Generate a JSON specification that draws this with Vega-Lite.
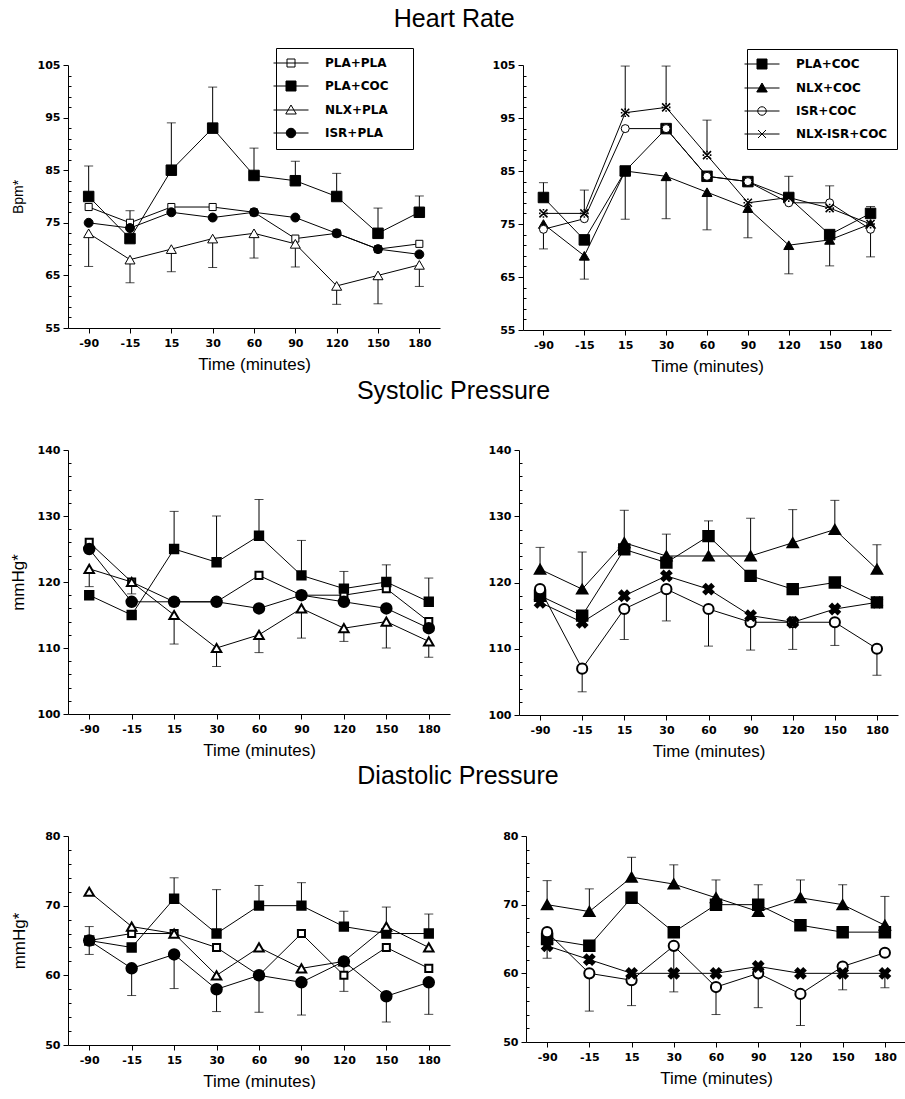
{
"$schema": "https://vega.github.io/schema/vega-lite/v6.json",
"background": "white",
"padding": {"left": 9, "top": 6, "right": 0, "bottom": 0},
"config": {"view": {"stroke": null}, "font": "Liberation Sans",
  "axis": {"grid": false, "domainColor": "black", "tickColor": "black", "labelColor": "black", "titleColor": "black", "domainWidth": 1, "tickWidth": 1, "labelFont": "DejaVu Sans", "labelFontWeight": "bold", "labelFontSize": 11, "titleFont": "Liberation Sans", "titleFontWeight": "normal", "labelOverlap": false},
  "title": {"color": "black", "font": "Liberation Sans", "fontWeight": "normal", "fontSize": 25, "anchor": "middle"}},
"datasets": {"d": [
{"m":"HR","p":"L","s":"PLA+PLA","t":"-90","v":78,"e":null},{"m":"HR","p":"L","s":"PLA+PLA","t":"-15","v":75,"e":77.3},{"m":"HR","p":"L","s":"PLA+PLA","t":"15","v":78,"e":null},{"m":"HR","p":"L","s":"PLA+PLA","t":"30","v":78,"e":null},{"m":"HR","p":"L","s":"PLA+PLA","t":"60","v":77,"e":null},{"m":"HR","p":"L","s":"PLA+PLA","t":"90","v":72,"e":null},{"m":"HR","p":"L","s":"PLA+PLA","t":"120","v":73,"e":null},{"m":"HR","p":"L","s":"PLA+PLA","t":"150","v":70,"e":null},{"m":"HR","p":"L","s":"PLA+PLA","t":"180","v":71,"e":null},
{"m":"HR","p":"L","s":"PLA+COC","t":"-90","v":80,"e":85.8},{"m":"HR","p":"L","s":"PLA+COC","t":"-15","v":72,"e":null},{"m":"HR","p":"L","s":"PLA+COC","t":"15","v":85,"e":94},{"m":"HR","p":"L","s":"PLA+COC","t":"30","v":93,"e":100.8},{"m":"HR","p":"L","s":"PLA+COC","t":"60","v":84,"e":89.2},{"m":"HR","p":"L","s":"PLA+COC","t":"90","v":83,"e":86.7},{"m":"HR","p":"L","s":"PLA+COC","t":"120","v":80,"e":84.4},{"m":"HR","p":"L","s":"PLA+COC","t":"150","v":73,"e":77.8},{"m":"HR","p":"L","s":"PLA+COC","t":"180","v":77,"e":80.1},
{"m":"HR","p":"L","s":"NLX+PLA","t":"-90","v":73,"e":66.7},{"m":"HR","p":"L","s":"NLX+PLA","t":"-15","v":68,"e":63.6},{"m":"HR","p":"L","s":"NLX+PLA","t":"15","v":70,"e":65.7},{"m":"HR","p":"L","s":"NLX+PLA","t":"30","v":72,"e":66.5},{"m":"HR","p":"L","s":"NLX+PLA","t":"60","v":73,"e":68.3},{"m":"HR","p":"L","s":"NLX+PLA","t":"90","v":71,"e":66.6},{"m":"HR","p":"L","s":"NLX+PLA","t":"120","v":63,"e":59.5},{"m":"HR","p":"L","s":"NLX+PLA","t":"150","v":65,"e":59.6},{"m":"HR","p":"L","s":"NLX+PLA","t":"180","v":67,"e":62.9},
{"m":"HR","p":"L","s":"ISR+PLA","t":"-90","v":75,"e":null},{"m":"HR","p":"L","s":"ISR+PLA","t":"-15","v":74,"e":null},{"m":"HR","p":"L","s":"ISR+PLA","t":"15","v":77,"e":null},{"m":"HR","p":"L","s":"ISR+PLA","t":"30","v":76,"e":null},{"m":"HR","p":"L","s":"ISR+PLA","t":"60","v":77,"e":null},{"m":"HR","p":"L","s":"ISR+PLA","t":"90","v":76,"e":null},{"m":"HR","p":"L","s":"ISR+PLA","t":"120","v":73,"e":null},{"m":"HR","p":"L","s":"ISR+PLA","t":"150","v":70,"e":null},{"m":"HR","p":"L","s":"ISR+PLA","t":"180","v":69,"e":null},
{"m":"HR","p":"R","s":"PLA+COC","t":"-90","v":80,"e":82.8},{"m":"HR","p":"R","s":"PLA+COC","t":"-15","v":72,"e":null},{"m":"HR","p":"R","s":"PLA+COC","t":"15","v":85,"e":null},{"m":"HR","p":"R","s":"PLA+COC","t":"30","v":93,"e":null},{"m":"HR","p":"R","s":"PLA+COC","t":"60","v":84,"e":null},{"m":"HR","p":"R","s":"PLA+COC","t":"90","v":83,"e":null},{"m":"HR","p":"R","s":"PLA+COC","t":"120","v":80,"e":84},{"m":"HR","p":"R","s":"PLA+COC","t":"150","v":73,"e":null},{"m":"HR","p":"R","s":"PLA+COC","t":"180","v":77,"e":78.3},
{"m":"HR","p":"R","s":"NLX+COC","t":"-90","v":75,"e":null},{"m":"HR","p":"R","s":"NLX+COC","t":"-15","v":69,"e":64.6},{"m":"HR","p":"R","s":"NLX+COC","t":"15","v":85,"e":75.9},{"m":"HR","p":"R","s":"NLX+COC","t":"30","v":84,"e":76},{"m":"HR","p":"R","s":"NLX+COC","t":"60","v":81,"e":73.9},{"m":"HR","p":"R","s":"NLX+COC","t":"90","v":78,"e":72.4},{"m":"HR","p":"R","s":"NLX+COC","t":"120","v":71,"e":65.6},{"m":"HR","p":"R","s":"NLX+COC","t":"150","v":72,"e":67.1},{"m":"HR","p":"R","s":"NLX+COC","t":"180","v":75,"e":null},
{"m":"HR","p":"R","s":"ISR+COC","t":"-90","v":74,"e":70.3},{"m":"HR","p":"R","s":"ISR+COC","t":"-15","v":76,"e":null},{"m":"HR","p":"R","s":"ISR+COC","t":"15","v":93,"e":null},{"m":"HR","p":"R","s":"ISR+COC","t":"30","v":93,"e":null},{"m":"HR","p":"R","s":"ISR+COC","t":"60","v":84,"e":null},{"m":"HR","p":"R","s":"ISR+COC","t":"90","v":83,"e":null},{"m":"HR","p":"R","s":"ISR+COC","t":"120","v":79,"e":null},{"m":"HR","p":"R","s":"ISR+COC","t":"150","v":79,"e":null},{"m":"HR","p":"R","s":"ISR+COC","t":"180","v":74,"e":68.8},
{"m":"HR","p":"R","s":"NLX-ISR+COC","t":"-90","v":77,"e":null},{"m":"HR","p":"R","s":"NLX-ISR+COC","t":"-15","v":77,"e":81.4},{"m":"HR","p":"R","s":"NLX-ISR+COC","t":"15","v":96,"e":104.8},{"m":"HR","p":"R","s":"NLX-ISR+COC","t":"30","v":97,"e":104.8},{"m":"HR","p":"R","s":"NLX-ISR+COC","t":"60","v":88,"e":94.6},{"m":"HR","p":"R","s":"NLX-ISR+COC","t":"90","v":79,"e":null},{"m":"HR","p":"R","s":"NLX-ISR+COC","t":"120","v":80,"e":null},{"m":"HR","p":"R","s":"NLX-ISR+COC","t":"150","v":78,"e":82.2},{"m":"HR","p":"R","s":"NLX-ISR+COC","t":"180","v":75,"e":null},
{"m":"SBP","p":"L","s":"PLA+PLA","t":"-90","v":126,"e":null},{"m":"SBP","p":"L","s":"PLA+PLA","t":"-15","v":120,"e":null},{"m":"SBP","p":"L","s":"PLA+PLA","t":"15","v":117,"e":null},{"m":"SBP","p":"L","s":"PLA+PLA","t":"30","v":117,"e":null},{"m":"SBP","p":"L","s":"PLA+PLA","t":"60","v":121,"e":null},{"m":"SBP","p":"L","s":"PLA+PLA","t":"90","v":118,"e":null},{"m":"SBP","p":"L","s":"PLA+PLA","t":"120","v":118,"e":null},{"m":"SBP","p":"L","s":"PLA+PLA","t":"150","v":119,"e":null},{"m":"SBP","p":"L","s":"PLA+PLA","t":"180","v":114,"e":null},
{"m":"SBP","p":"L","s":"PLA+COC","t":"-90","v":118,"e":null},{"m":"SBP","p":"L","s":"PLA+COC","t":"-15","v":115,"e":null},{"m":"SBP","p":"L","s":"PLA+COC","t":"15","v":125,"e":130.7},{"m":"SBP","p":"L","s":"PLA+COC","t":"30","v":123,"e":130},{"m":"SBP","p":"L","s":"PLA+COC","t":"60","v":127,"e":132.5},{"m":"SBP","p":"L","s":"PLA+COC","t":"90","v":121,"e":126.3},{"m":"SBP","p":"L","s":"PLA+COC","t":"120","v":119,"e":121.6},{"m":"SBP","p":"L","s":"PLA+COC","t":"150","v":120,"e":122.6},{"m":"SBP","p":"L","s":"PLA+COC","t":"180","v":117,"e":120.6},
{"m":"SBP","p":"L","s":"NLX+PLA","t":"-90","v":122,"e":119.3},{"m":"SBP","p":"L","s":"NLX+PLA","t":"-15","v":120,"e":118.2},{"m":"SBP","p":"L","s":"NLX+PLA","t":"15","v":115,"e":110.6},{"m":"SBP","p":"L","s":"NLX+PLA","t":"30","v":110,"e":107.2},{"m":"SBP","p":"L","s":"NLX+PLA","t":"60","v":112,"e":109.3},{"m":"SBP","p":"L","s":"NLX+PLA","t":"90","v":116,"e":111.5},{"m":"SBP","p":"L","s":"NLX+PLA","t":"120","v":113,"e":111},{"m":"SBP","p":"L","s":"NLX+PLA","t":"150","v":114,"e":110},{"m":"SBP","p":"L","s":"NLX+PLA","t":"180","v":111,"e":108.6},
{"m":"SBP","p":"L","s":"ISR+PLA","t":"-90","v":125,"e":null},{"m":"SBP","p":"L","s":"ISR+PLA","t":"-15","v":117,"e":null},{"m":"SBP","p":"L","s":"ISR+PLA","t":"15","v":117,"e":null},{"m":"SBP","p":"L","s":"ISR+PLA","t":"30","v":117,"e":null},{"m":"SBP","p":"L","s":"ISR+PLA","t":"60","v":116,"e":null},{"m":"SBP","p":"L","s":"ISR+PLA","t":"90","v":118,"e":null},{"m":"SBP","p":"L","s":"ISR+PLA","t":"120","v":117,"e":null},{"m":"SBP","p":"L","s":"ISR+PLA","t":"150","v":116,"e":null},{"m":"SBP","p":"L","s":"ISR+PLA","t":"180","v":113,"e":null},
{"m":"SBP","p":"R","s":"PLA+COC","t":"-90","v":118,"e":null},{"m":"SBP","p":"R","s":"PLA+COC","t":"-15","v":115,"e":null},{"m":"SBP","p":"R","s":"PLA+COC","t":"15","v":125,"e":null},{"m":"SBP","p":"R","s":"PLA+COC","t":"30","v":123,"e":null},{"m":"SBP","p":"R","s":"PLA+COC","t":"60","v":127,"e":null},{"m":"SBP","p":"R","s":"PLA+COC","t":"90","v":121,"e":null},{"m":"SBP","p":"R","s":"PLA+COC","t":"120","v":119,"e":null},{"m":"SBP","p":"R","s":"PLA+COC","t":"150","v":120,"e":null},{"m":"SBP","p":"R","s":"PLA+COC","t":"180","v":117,"e":null},
{"m":"SBP","p":"R","s":"NLX+COC","t":"-90","v":122,"e":125.3},{"m":"SBP","p":"R","s":"NLX+COC","t":"-15","v":119,"e":124.6},{"m":"SBP","p":"R","s":"NLX+COC","t":"15","v":126,"e":130.9},{"m":"SBP","p":"R","s":"NLX+COC","t":"30","v":124,"e":127.3},{"m":"SBP","p":"R","s":"NLX+COC","t":"60","v":124,"e":129.3},{"m":"SBP","p":"R","s":"NLX+COC","t":"90","v":124,"e":129.7},{"m":"SBP","p":"R","s":"NLX+COC","t":"120","v":126,"e":131},{"m":"SBP","p":"R","s":"NLX+COC","t":"150","v":128,"e":132.4},{"m":"SBP","p":"R","s":"NLX+COC","t":"180","v":122,"e":125.7},
{"m":"SBP","p":"R","s":"ISR+COC","t":"-90","v":119,"e":null},{"m":"SBP","p":"R","s":"ISR+COC","t":"-15","v":107,"e":103.5},{"m":"SBP","p":"R","s":"ISR+COC","t":"15","v":116,"e":111.4},{"m":"SBP","p":"R","s":"ISR+COC","t":"30","v":119,"e":114.2},{"m":"SBP","p":"R","s":"ISR+COC","t":"60","v":116,"e":110.4},{"m":"SBP","p":"R","s":"ISR+COC","t":"90","v":114,"e":109.8},{"m":"SBP","p":"R","s":"ISR+COC","t":"120","v":114,"e":109.9},{"m":"SBP","p":"R","s":"ISR+COC","t":"150","v":114,"e":110.5},{"m":"SBP","p":"R","s":"ISR+COC","t":"180","v":110,"e":106},
{"m":"SBP","p":"R","s":"NLX-ISR+COC","t":"-90","v":117,"e":null},{"m":"SBP","p":"R","s":"NLX-ISR+COC","t":"-15","v":114,"e":null},{"m":"SBP","p":"R","s":"NLX-ISR+COC","t":"15","v":118,"e":null},{"m":"SBP","p":"R","s":"NLX-ISR+COC","t":"30","v":121,"e":null},{"m":"SBP","p":"R","s":"NLX-ISR+COC","t":"60","v":119,"e":null},{"m":"SBP","p":"R","s":"NLX-ISR+COC","t":"90","v":115,"e":null},{"m":"SBP","p":"R","s":"NLX-ISR+COC","t":"120","v":114,"e":null},{"m":"SBP","p":"R","s":"NLX-ISR+COC","t":"150","v":116,"e":null},{"m":"SBP","p":"R","s":"NLX-ISR+COC","t":"180","v":117,"e":null},
{"m":"DBP","p":"L","s":"PLA+PLA","t":"-90","v":65,"e":null},{"m":"DBP","p":"L","s":"PLA+PLA","t":"-15","v":66,"e":null},{"m":"DBP","p":"L","s":"PLA+PLA","t":"15","v":66,"e":null},{"m":"DBP","p":"L","s":"PLA+PLA","t":"30","v":64,"e":null},{"m":"DBP","p":"L","s":"PLA+PLA","t":"60","v":60,"e":null},{"m":"DBP","p":"L","s":"PLA+PLA","t":"90","v":66,"e":null},{"m":"DBP","p":"L","s":"PLA+PLA","t":"120","v":60,"e":null},{"m":"DBP","p":"L","s":"PLA+PLA","t":"150","v":64,"e":null},{"m":"DBP","p":"L","s":"PLA+PLA","t":"180","v":61,"e":null},
{"m":"DBP","p":"L","s":"PLA+COC","t":"-90","v":65,"e":67},{"m":"DBP","p":"L","s":"PLA+COC","t":"-15","v":64,"e":null},{"m":"DBP","p":"L","s":"PLA+COC","t":"15","v":71,"e":74},{"m":"DBP","p":"L","s":"PLA+COC","t":"30","v":66,"e":72.3},{"m":"DBP","p":"L","s":"PLA+COC","t":"60","v":70,"e":72.9},{"m":"DBP","p":"L","s":"PLA+COC","t":"90","v":70,"e":73.3},{"m":"DBP","p":"L","s":"PLA+COC","t":"120","v":67,"e":69.2},{"m":"DBP","p":"L","s":"PLA+COC","t":"150","v":66,"e":69.8},{"m":"DBP","p":"L","s":"PLA+COC","t":"180","v":66,"e":68.8},
{"m":"DBP","p":"L","s":"NLX+PLA","t":"-90","v":72,"e":null},{"m":"DBP","p":"L","s":"NLX+PLA","t":"-15","v":67,"e":null},{"m":"DBP","p":"L","s":"NLX+PLA","t":"15","v":66,"e":null},{"m":"DBP","p":"L","s":"NLX+PLA","t":"30","v":60,"e":null},{"m":"DBP","p":"L","s":"NLX+PLA","t":"60","v":64,"e":null},{"m":"DBP","p":"L","s":"NLX+PLA","t":"90","v":61,"e":null},{"m":"DBP","p":"L","s":"NLX+PLA","t":"120","v":62,"e":null},{"m":"DBP","p":"L","s":"NLX+PLA","t":"150","v":67,"e":null},{"m":"DBP","p":"L","s":"NLX+PLA","t":"180","v":64,"e":null},
{"m":"DBP","p":"L","s":"ISR+PLA","t":"-90","v":65,"e":63},{"m":"DBP","p":"L","s":"ISR+PLA","t":"-15","v":61,"e":57.1},{"m":"DBP","p":"L","s":"ISR+PLA","t":"15","v":63,"e":58.1},{"m":"DBP","p":"L","s":"ISR+PLA","t":"30","v":58,"e":54.8},{"m":"DBP","p":"L","s":"ISR+PLA","t":"60","v":60,"e":54.7},{"m":"DBP","p":"L","s":"ISR+PLA","t":"90","v":59,"e":54.3},{"m":"DBP","p":"L","s":"ISR+PLA","t":"120","v":62,"e":57.7},{"m":"DBP","p":"L","s":"ISR+PLA","t":"150","v":57,"e":53.3},{"m":"DBP","p":"L","s":"ISR+PLA","t":"180","v":59,"e":54.4},
{"m":"DBP","p":"R","s":"PLA+COC","t":"-90","v":65,"e":null},{"m":"DBP","p":"R","s":"PLA+COC","t":"-15","v":64,"e":null},{"m":"DBP","p":"R","s":"PLA+COC","t":"15","v":71,"e":null},{"m":"DBP","p":"R","s":"PLA+COC","t":"30","v":66,"e":null},{"m":"DBP","p":"R","s":"PLA+COC","t":"60","v":70,"e":null},{"m":"DBP","p":"R","s":"PLA+COC","t":"90","v":70,"e":null},{"m":"DBP","p":"R","s":"PLA+COC","t":"120","v":67,"e":null},{"m":"DBP","p":"R","s":"PLA+COC","t":"150","v":66,"e":null},{"m":"DBP","p":"R","s":"PLA+COC","t":"180","v":66,"e":null},
{"m":"DBP","p":"R","s":"NLX+COC","t":"-90","v":70,"e":73.5},{"m":"DBP","p":"R","s":"NLX+COC","t":"-15","v":69,"e":72.3},{"m":"DBP","p":"R","s":"NLX+COC","t":"15","v":74,"e":76.9},{"m":"DBP","p":"R","s":"NLX+COC","t":"30","v":73,"e":75.8},{"m":"DBP","p":"R","s":"NLX+COC","t":"60","v":71,"e":73.6},{"m":"DBP","p":"R","s":"NLX+COC","t":"90","v":69,"e":72.9},{"m":"DBP","p":"R","s":"NLX+COC","t":"120","v":71,"e":73.6},{"m":"DBP","p":"R","s":"NLX+COC","t":"150","v":70,"e":72.9},{"m":"DBP","p":"R","s":"NLX+COC","t":"180","v":67,"e":71.2},
{"m":"DBP","p":"R","s":"ISR+COC","t":"-90","v":66,"e":null},{"m":"DBP","p":"R","s":"ISR+COC","t":"-15","v":60,"e":54.5},{"m":"DBP","p":"R","s":"ISR+COC","t":"15","v":59,"e":55.3},{"m":"DBP","p":"R","s":"ISR+COC","t":"30","v":64,"e":57.3},{"m":"DBP","p":"R","s":"ISR+COC","t":"60","v":58,"e":54},{"m":"DBP","p":"R","s":"ISR+COC","t":"90","v":60,"e":55},{"m":"DBP","p":"R","s":"ISR+COC","t":"120","v":57,"e":52.4},{"m":"DBP","p":"R","s":"ISR+COC","t":"150","v":61,"e":null},{"m":"DBP","p":"R","s":"ISR+COC","t":"180","v":63,"e":null},
{"m":"DBP","p":"R","s":"NLX-ISR+COC","t":"-90","v":64,"e":62.2},{"m":"DBP","p":"R","s":"NLX-ISR+COC","t":"-15","v":62,"e":null},{"m":"DBP","p":"R","s":"NLX-ISR+COC","t":"15","v":60,"e":null},{"m":"DBP","p":"R","s":"NLX-ISR+COC","t":"30","v":60,"e":null},{"m":"DBP","p":"R","s":"NLX-ISR+COC","t":"60","v":60,"e":null},{"m":"DBP","p":"R","s":"NLX-ISR+COC","t":"90","v":61,"e":null},{"m":"DBP","p":"R","s":"NLX-ISR+COC","t":"120","v":60,"e":null},{"m":"DBP","p":"R","s":"NLX-ISR+COC","t":"150","v":60,"e":57.6},{"m":"DBP","p":"R","s":"NLX-ISR+COC","t":"180","v":60,"e":57.9}
]},
"spacing": 5,
"resolve": {"scale": {"shape": "independent", "fill": "independent", "size": "independent", "x": "independent", "y": "independent"}, "legend": {"shape": "independent", "fill": "independent"}},
"vconcat": [
{"title": {"text": "Heart Rate", "offset": 16}, "spacing": 52,
 "resolve": {"scale": {"shape": "independent", "fill": "independent", "size": "independent", "x": "independent", "y": "independent"}, "legend": {"shape": "independent", "fill": "independent"}},
 "hconcat": [
 {"width": 372, "height": 263, "data": {"name": "d"}, "transform": [{"filter": "datum.m == 'HR' && datum.p == 'L'"}],
  "resolve": {"axis": {"y": "independent"}},
  "encoding": {"x": {"field": "t", "type": "ordinal", "sort": ["-90","-15","15","30","60","90","120","150","180"], "scale": {"type": "point", "padding": 0.5}, "axis": {"title": "Time (minutes)", "titleFontSize": 17, "labelAngle": 0, "tickSize": 5, "labelPadding": 4, "titlePadding": 8}}},
  "layer": [
   {"transform": [{"filter": "isValid(datum.e)"}], "mark": {"type": "rule", "color": "black", "strokeWidth": 1},
    "encoding": {"y": {"field": "v", "type": "quantitative", "title": "Bpm*", "scale": {"domain": [55, 105], "nice": false, "zero": false},
      "axis": {"orient": "left", "values": [55,65,75,85,95,105], "tickSize": 5, "minExtent": 30, "maxExtent": 30, "labelPadding": 3, "titleFontSize": 14, "titlePadding": 13}},
     "y2": {"field": "e"}}},
   {"transform": [{"filter": "isValid(datum.e)"}], "mark": {"type": "tick", "color": "black", "thickness": 1, "size": 9},
    "encoding": {"y": {"field": "e", "type": "quantitative", "axis": null}}},
   {"mark": {"type": "line", "color": "black", "strokeWidth": 1}, "encoding": {"y": {"field": "v", "type": "quantitative", "axis": {"orient": "left", "title": null, "labels": false, "domain": false, "tickSize": -3, "values": [57,59,61,63,67,69,71,73,77,79,81,83,87,89,91,93,97,99,101,103], "minExtent": 0, "maxExtent": 0}}, "detail": {"field": "s"}}},
   {"transform": [{"filter": "datum.s == 'PLA+PLA'"}], "mark": {"type": "point", "shape": "square", "filled": true, "fill": "white", "stroke": "black", "strokeWidth": 1, "size": 50, "opacity": 1}, "encoding": {"y": {"field": "v", "type": "quantitative", "axis": null}}},
   {"transform": [{"filter": "datum.s == 'PLA+COC'"}], "mark": {"type": "point", "shape": "square", "filled": true, "fill": "black", "stroke": "black", "strokeWidth": 1, "size": 110, "opacity": 1}, "encoding": {"y": {"field": "v", "type": "quantitative", "axis": null}}},
   {"transform": [{"filter": "datum.s == 'NLX+PLA'"}], "mark": {"type": "point", "shape": "triangle-up", "filled": true, "fill": "white", "stroke": "black", "strokeWidth": 1, "size": 100, "opacity": 1}, "encoding": {"y": {"field": "v", "type": "quantitative", "axis": null}}},
   {"transform": [{"filter": "datum.s == 'ISR+PLA'"}], "mark": {"type": "point", "shape": "circle", "filled": true, "fill": "black", "stroke": "black", "strokeWidth": 1, "size": 80, "opacity": 1}, "encoding": {"y": {"field": "v", "type": "quantitative", "axis": null}}},
   {"transform": [{"filter": "false"}], "mark": {"type": "point", "filled": true, "stroke": "black", "strokeWidth": 1, "opacity": 1, "size": 100},
    "encoding": {"y": {"field": "v", "type": "quantitative", "axis": null},
     "shape": {"field": "s", "type": "nominal", "scale": {"domain": ["PLA+PLA","PLA+COC","NLX+PLA","ISR+PLA"], "range": ["M-5.4,0M22.2,0M-3.5,0H3.5M-0.8,-0.8H0.8V0.8H-0.8Z", "M-5.4,0M22.2,0M-3.5,0H3.5M-1,-1H1V1H-1Z", "M-5.4,0M22.2,0M-3.5,0H3.5M0,-1L1.05,0.8H-1.05Z", "M-5.4,0M22.2,0M-3.5,0H3.5M-0.95,0A0.95,0.95,0,1,1,0.95,0A0.95,0.95,0,1,1,-0.95,0Z"]},
       "legend": {"orient": "none", "legendX": 208, "legendY": -17, "title": null, "strokeColor": "black", "fillColor": "white", "padding": 9, "symbolSize": 100, "symbolStrokeWidth": 1, "symbolOpacity": 1, "labelOffset": 28, "rowPadding": 10, "labelFont": "DejaVu Sans", "labelFontWeight": "bold", "labelFontSize": 12, "labelColor": "black"}},
     "fill": {"field": "s", "type": "nominal", "scale": {"domain": ["PLA+PLA","PLA+COC","NLX+PLA","ISR+PLA"], "range": ["white","black","white","black"]}}}}
  ]},
 {"width": 368, "height": 265, "data": {"name": "d"}, "transform": [{"filter": "datum.m == 'HR' && datum.p == 'R'"}],
  "resolve": {"axis": {"y": "independent"}},
  "encoding": {"x": {"field": "t", "type": "ordinal", "sort": ["-90","-15","15","30","60","90","120","150","180"], "scale": {"type": "point", "padding": 0.5}, "axis": {"title": "Time (minutes)", "titleFontSize": 17, "labelAngle": 0, "tickSize": 5, "labelPadding": 4, "titlePadding": 8}}},
  "layer": [
   {"transform": [{"filter": "isValid(datum.e)"}], "mark": {"type": "rule", "color": "black", "strokeWidth": 1},
    "encoding": {"y": {"field": "v", "type": "quantitative", "title": null, "scale": {"domain": [55, 105], "nice": false, "zero": false},
      "axis": {"orient": "left", "values": [55,65,75,85,95,105], "tickSize": 5, "minExtent": 30, "maxExtent": 30, "labelPadding": 3}},
     "y2": {"field": "e"}}},
   {"transform": [{"filter": "isValid(datum.e)"}], "mark": {"type": "tick", "color": "black", "thickness": 1, "size": 9},
    "encoding": {"y": {"field": "e", "type": "quantitative", "axis": null}}},
   {"mark": {"type": "line", "color": "black", "strokeWidth": 1}, "encoding": {"y": {"field": "v", "type": "quantitative", "axis": {"orient": "left", "title": null, "labels": false, "domain": false, "tickSize": -3, "values": [57,59,61,63,67,69,71,73,77,79,81,83,87,89,91,93,97,99,101,103], "minExtent": 0, "maxExtent": 0}}, "detail": {"field": "s"}}},
   {"transform": [{"filter": "datum.s == 'PLA+COC'"}], "mark": {"type": "point", "shape": "square", "filled": true, "fill": "black", "stroke": "black", "strokeWidth": 1, "size": 110, "opacity": 1}, "encoding": {"y": {"field": "v", "type": "quantitative", "axis": null}}},
   {"transform": [{"filter": "datum.s == 'NLX+COC'"}], "mark": {"type": "point", "shape": "triangle-up", "filled": true, "fill": "black", "stroke": "black", "strokeWidth": 1, "size": 100, "opacity": 1}, "encoding": {"y": {"field": "v", "type": "quantitative", "axis": null}}},
   {"transform": [{"filter": "datum.s == 'ISR+COC'"}], "mark": {"type": "point", "shape": "circle", "filled": true, "fill": "white", "stroke": "black", "strokeWidth": 1, "size": 64, "opacity": 1}, "encoding": {"y": {"field": "v", "type": "quantitative", "axis": null}}},
   {"transform": [{"filter": "datum.s == 'NLX-ISR+COC'"}], "mark": {"type": "point", "shape": "M-1,-1L1,1M-1,1L1,-1M0,-1.1V-0.7M0,1.1V0.7M-1.1,0H-0.7M1.1,0H0.7", "filled": false, "stroke": "black", "strokeWidth": 1.6, "size": 64, "opacity": 1}, "encoding": {"y": {"field": "v", "type": "quantitative", "axis": null}}},
   {"transform": [{"filter": "false"}], "mark": {"type": "point", "filled": true, "stroke": "black", "strokeWidth": 1, "opacity": 1, "size": 100},
    "encoding": {"y": {"field": "v", "type": "quantitative", "axis": null},
     "shape": {"field": "s", "type": "nominal", "scale": {"domain": ["PLA+COC","NLX+COC","ISR+COC","NLX-ISR+COC"], "range": ["M-4.2,0M-3.5,0H3.5M-1,-1H1V1H-1Z", "M-4.2,0M-3.5,0H3.5M0,-1L1.05,0.8H-1.05Z", "M-4.2,0M-3.5,0H3.5M-0.85,0A0.85,0.85,0,1,1,0.85,0A0.85,0.85,0,1,1,-0.85,0Z", "M-4.2,0M-3.5,0H3.5M-0.8,-0.8L0.8,0.8M-0.8,0.8L0.8,-0.8"]},
       "legend": {"orient": "none", "legendX": 224, "legendY": -16, "title": null, "strokeColor": "black", "fillColor": "white", "padding": 9, "symbolSize": 100, "symbolStrokeWidth": 1, "symbolOpacity": 1, "labelOffset": 28, "rowPadding": 10, "labelFont": "DejaVu Sans", "labelFontWeight": "bold", "labelFontSize": 12, "labelColor": "black"}},
     "fill": {"field": "s", "type": "nominal", "scale": {"domain": ["PLA+COC","NLX+COC","ISR+COC","NLX-ISR+COC"], "range": ["black","black","white","black"]}}}}
  ]}
]},
{"title": {"text": "Systolic Pressure", "offset": 40}, "spacing": 38,
 "resolve": {"scale": {"shape": "independent", "fill": "independent", "size": "independent", "x": "independent", "y": "independent"}},
 "hconcat": [
 {"width": 382, "height": 264, "data": {"name": "d"}, "transform": [{"filter": "datum.m == 'SBP' && datum.p == 'L'"}],
  "resolve": {"axis": {"y": "independent"}},
  "encoding": {"x": {"field": "t", "type": "ordinal", "sort": ["-90","-15","15","30","60","90","120","150","180"], "scale": {"type": "point", "padding": 0.5}, "axis": {"title": "Time (minutes)", "titleFontSize": 17, "labelAngle": 0, "tickSize": 5, "labelPadding": 4, "titlePadding": 8}}},
  "layer": [
   {"transform": [{"filter": "isValid(datum.e)"}], "mark": {"type": "rule", "color": "black", "strokeWidth": 1},
    "encoding": {"y": {"field": "v", "type": "quantitative", "title": "mmHg*", "scale": {"domain": [100, 140], "nice": false, "zero": false},
      "axis": {"orient": "left", "values": [100,110,120,130,140], "tickSize": 5, "minExtent": 30, "maxExtent": 30, "labelPadding": 3, "titleFontSize": 17, "titlePadding": 11}},
     "y2": {"field": "e"}}},
   {"transform": [{"filter": "isValid(datum.e)"}], "mark": {"type": "tick", "color": "black", "thickness": 1, "size": 9},
    "encoding": {"y": {"field": "e", "type": "quantitative", "axis": null}}},
   {"mark": {"type": "line", "color": "black", "strokeWidth": 1}, "encoding": {"y": {"field": "v", "type": "quantitative", "axis": {"orient": "left", "title": null, "labels": false, "domain": false, "tickSize": -3, "values": [102,104,106,108,112,114,116,118,122,124,126,128,132,134,136,138], "minExtent": 0, "maxExtent": 0}}, "detail": {"field": "s"}}},
   {"mark": {"type": "point", "filled": true, "opacity": 1, "stroke": "black"},
    "encoding": {"y": {"field": "v", "type": "quantitative", "axis": null},
     "shape": {"field": "s", "type": "nominal", "scale": {"domain": ["PLA+PLA","PLA+COC","NLX+PLA","ISR+PLA"], "range": ["square","square","triangle-up","circle"]}, "legend": null},
     "fill": {"field": "s", "type": "nominal", "scale": {"domain": ["PLA+PLA","PLA+COC","NLX+PLA","ISR+PLA"], "range": ["white","black","white","black"]}, "legend": null},
     "size": {"field": "s", "type": "nominal", "scale": {"domain": ["PLA+PLA","PLA+COC","NLX+PLA","ISR+PLA"], "range": [50, 110, 100, 80]}, "legend": null}}}
  ]},
 {"width": 379, "height": 265, "data": {"name": "d"}, "transform": [{"filter": "datum.m == 'SBP' && datum.p == 'R'"}],
  "resolve": {"axis": {"y": "independent"}},
  "encoding": {"x": {"field": "t", "type": "ordinal", "sort": ["-90","-15","15","30","60","90","120","150","180"], "scale": {"type": "point", "padding": 0.5}, "axis": {"title": "Time (minutes)", "titleFontSize": 17, "labelAngle": 0, "tickSize": 5, "labelPadding": 4, "titlePadding": 8}}},
  "layer": [
   {"transform": [{"filter": "isValid(datum.e)"}], "mark": {"type": "rule", "color": "black", "strokeWidth": 1},
    "encoding": {"y": {"field": "v", "type": "quantitative", "title": null, "scale": {"domain": [100, 140], "nice": false, "zero": false},
      "axis": {"orient": "left", "values": [100,110,120,130,140], "tickSize": 5, "minExtent": 30, "maxExtent": 30, "labelPadding": 3}},
     "y2": {"field": "e"}}},
   {"transform": [{"filter": "isValid(datum.e)"}], "mark": {"type": "tick", "color": "black", "thickness": 1, "size": 9},
    "encoding": {"y": {"field": "e", "type": "quantitative", "axis": null}}},
   {"mark": {"type": "line", "color": "black", "strokeWidth": 1}, "encoding": {"y": {"field": "v", "type": "quantitative", "axis": {"orient": "left", "title": null, "labels": false, "domain": false, "tickSize": -3, "values": [102,104,106,108,112,114,116,118,122,124,126,128,132,134,136,138], "minExtent": 0, "maxExtent": 0}}, "detail": {"field": "s"}}},
   {"mark": {"type": "point", "filled": true, "opacity": 1, "stroke": "black"},
    "encoding": {"y": {"field": "v", "type": "quantitative", "axis": null},
     "shape": {"field": "s", "type": "nominal", "scale": {"domain": ["PLA+COC","NLX+COC","ISR+COC","NLX-ISR+COC"], "range": ["square","triangle-up","circle","M-1,-0.55L-0.55,-1L0,-0.45L0.55,-1L1,-0.55L0.45,0L1,0.55L0.55,1L0,0.45L-0.55,1L-1,0.55L-0.45,0Z"]}, "legend": null},
     "fill": {"field": "s", "type": "nominal", "scale": {"domain": ["PLA+COC","NLX+COC","ISR+COC","NLX-ISR+COC"], "range": ["black","black","white","black"]}, "legend": null},
     "size": {"field": "s", "type": "nominal", "scale": {"domain": ["PLA+COC","NLX+COC","ISR+COC","NLX-ISR+COC"], "range": [110, 100, 64, 80]}, "legend": null}}}
  ]}
]},
{"title": {"text": "Diastolic Pressure", "offset": 41}, "spacing": 46,
 "resolve": {"scale": {"shape": "independent", "fill": "independent", "size": "independent", "x": "independent", "y": "independent"}},
 "hconcat": [
 {"width": 382, "height": 209, "data": {"name": "d"}, "transform": [{"filter": "datum.m == 'DBP' && datum.p == 'L'"}],
  "resolve": {"axis": {"y": "independent"}},
  "encoding": {"x": {"field": "t", "type": "ordinal", "sort": ["-90","-15","15","30","60","90","120","150","180"], "scale": {"type": "point", "padding": 0.5}, "axis": {"title": "Time (minutes)", "titleFontSize": 17, "labelAngle": 0, "tickSize": 5, "labelPadding": 4, "titlePadding": 8}}},
  "layer": [
   {"transform": [{"filter": "isValid(datum.e)"}], "mark": {"type": "rule", "color": "black", "strokeWidth": 1},
    "encoding": {"y": {"field": "v", "type": "quantitative", "title": "mmHg*", "scale": {"domain": [50, 80], "nice": false, "zero": false},
      "axis": {"orient": "left", "values": [50,60,70,80], "tickSize": 5, "minExtent": 30, "maxExtent": 30, "labelPadding": 3, "titleFontSize": 17, "titlePadding": 10}},
     "y2": {"field": "e"}}},
   {"transform": [{"filter": "isValid(datum.e)"}], "mark": {"type": "tick", "color": "black", "thickness": 1, "size": 9},
    "encoding": {"y": {"field": "e", "type": "quantitative", "axis": null}}},
   {"mark": {"type": "line", "color": "black", "strokeWidth": 1}, "encoding": {"y": {"field": "v", "type": "quantitative", "axis": {"orient": "left", "title": null, "labels": false, "domain": false, "tickSize": -3, "values": [52,54,56,58,62,64,66,68,72,74,76,78], "minExtent": 0, "maxExtent": 0}}, "detail": {"field": "s"}}},
   {"mark": {"type": "point", "filled": true, "opacity": 1, "stroke": "black"},
    "encoding": {"y": {"field": "v", "type": "quantitative", "axis": null},
     "shape": {"field": "s", "type": "nominal", "scale": {"domain": ["PLA+PLA","PLA+COC","NLX+PLA","ISR+PLA"], "range": ["square","square","triangle-up","circle"]}, "legend": null},
     "fill": {"field": "s", "type": "nominal", "scale": {"domain": ["PLA+PLA","PLA+COC","NLX+PLA","ISR+PLA"], "range": ["white","black","white","black"]}, "legend": null},
     "size": {"field": "s", "type": "nominal", "scale": {"domain": ["PLA+PLA","PLA+COC","NLX+PLA","ISR+PLA"], "range": [50, 110, 100, 80]}, "legend": null}}}
  ]},
 {"width": 380, "height": 206, "data": {"name": "d"}, "transform": [{"filter": "datum.m == 'DBP' && datum.p == 'R'"}],
  "resolve": {"axis": {"y": "independent"}},
  "encoding": {"x": {"field": "t", "type": "ordinal", "sort": ["-90","-15","15","30","60","90","120","150","180"], "scale": {"type": "point", "padding": 0.5}, "axis": {"title": "Time (minutes)", "titleFontSize": 17, "labelAngle": 0, "tickSize": 5, "labelPadding": 4, "titlePadding": 8}}},
  "layer": [
   {"transform": [{"filter": "isValid(datum.e)"}], "mark": {"type": "rule", "color": "black", "strokeWidth": 1},
    "encoding": {"y": {"field": "v", "type": "quantitative", "title": null, "scale": {"domain": [50, 80], "nice": false, "zero": false},
      "axis": {"orient": "left", "values": [50,60,70,80], "tickSize": 5, "minExtent": 30, "maxExtent": 30, "labelPadding": 3}},
     "y2": {"field": "e"}}},
   {"transform": [{"filter": "isValid(datum.e)"}], "mark": {"type": "tick", "color": "black", "thickness": 1, "size": 9},
    "encoding": {"y": {"field": "e", "type": "quantitative", "axis": null}}},
   {"mark": {"type": "line", "color": "black", "strokeWidth": 1}, "encoding": {"y": {"field": "v", "type": "quantitative", "axis": {"orient": "left", "title": null, "labels": false, "domain": false, "tickSize": -3, "values": [52,54,56,58,62,64,66,68,72,74,76,78], "minExtent": 0, "maxExtent": 0}}, "detail": {"field": "s"}}},
   {"mark": {"type": "point", "filled": true, "opacity": 1, "stroke": "black"},
    "encoding": {"y": {"field": "v", "type": "quantitative", "axis": null},
     "shape": {"field": "s", "type": "nominal", "scale": {"domain": ["PLA+COC","NLX+COC","ISR+COC","NLX-ISR+COC"], "range": ["square","triangle-up","circle","M-1,-0.55L-0.55,-1L0,-0.45L0.55,-1L1,-0.55L0.45,0L1,0.55L0.55,1L0,0.45L-0.55,1L-1,0.55L-0.45,0Z"]}, "legend": null},
     "fill": {"field": "s", "type": "nominal", "scale": {"domain": ["PLA+COC","NLX+COC","ISR+COC","NLX-ISR+COC"], "range": ["black","black","white","black"]}, "legend": null},
     "size": {"field": "s", "type": "nominal", "scale": {"domain": ["PLA+COC","NLX+COC","ISR+COC","NLX-ISR+COC"], "range": [110, 100, 64, 80]}, "legend": null}}}
  ]}
]}
]
}
